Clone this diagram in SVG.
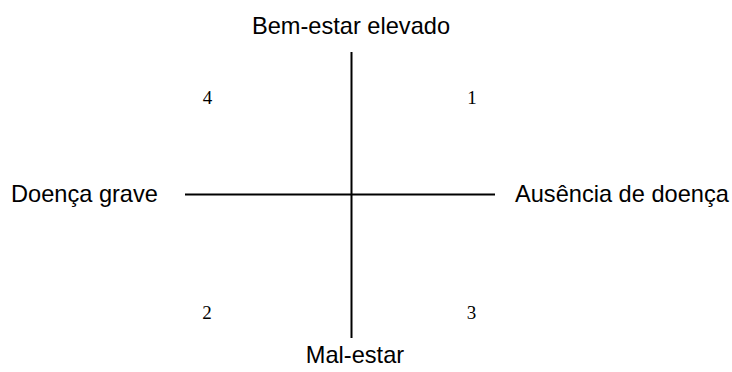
<svg xmlns="http://www.w3.org/2000/svg" width="732" height="372" viewBox="0 0 732 372">
<style>
.lbl{font-family:"Liberation Sans",Arial,sans-serif;font-size:23.6px;fill:#000}
.num{font-family:"Liberation Serif","Times New Roman",serif;font-size:19px;fill:#000;text-anchor:middle}
.ax{stroke:#000;stroke-width:2;fill:none}
</style>
<rect width="732" height="372" fill="#fff"/>
<g id="connectors">
<line class="ax" x1="351.5" y1="52" x2="351.5" y2="338"/>
<line class="ax" x1="185" y1="194.5" x2="495" y2="194.5"/>
</g>
<g id="top"><text class="lbl" x="351" y="34" text-anchor="middle">Bem-estar elevado</text></g>
<g id="bottom"><text class="lbl" x="355" y="363" text-anchor="middle">Mal-estar</text></g>
<g id="left"><text class="lbl" x="11" y="202">Doença grave</text></g>
<g id="right"><text class="lbl" x="515" y="202">Ausência de doença</text></g>
<g id="q4"><text class="num" x="207.5" y="104">4</text></g>
<g id="q1"><text class="num" x="472" y="104">1</text></g>
<g id="q2"><text class="num" x="207" y="319">2</text></g>
<g id="q3"><text class="num" x="471.5" y="319">3</text></g>
</svg>
